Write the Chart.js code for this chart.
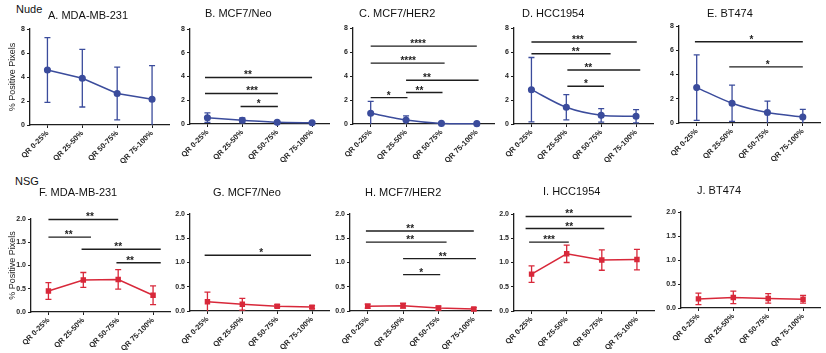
<!DOCTYPE html>
<html>
<head>
<meta charset="utf-8">
<script src="https://cdn.jsdelivr.net/npm/chart.js@4.4.1/dist/chart.umd.min.js"></script>
<style>
body { margin: 0; background: #fff; }
#fig { position: relative; width: 826px; height: 353px; overflow: hidden; font-family: "Liberation Sans", Arial, sans-serif; }
#fig canvas { position: absolute; }
.lbl { position: absolute; font-size: 11px; line-height: 12px; color: #111; white-space: nowrap; }
</style>
</head>
<body>
<div id="fig"></div>
<script>
// categories on the x axis
const quartiles = ['QR 0-25%', 'QR 25-50%', 'QR 50-75%', 'QR 75-100%'];
const nudeTicks = [0, 2, 4, 6, 8];
const nsgTicks = [0, 0.5, 1.0, 1.5, 2.0];

// Nude mice (blue): mean and SD per quartile
const nudeMdaMean = [4.58, 3.9, 2.62, 2.14];
const nudeMdaErr = [2.7, 2.4, 2.2, 2.8];
const nudeNeoMean = [0.53, 0.31, 0.14, 0.11];
const nudeNeoErr = [0.4, 0.2, 0.06, 0.08];
const nudeHer2Mean = [0.89, 0.33, 0.05, 0.03];
const nudeHer2Err = [1.0, 0.34, 0.04, 0.03];
const nudeHccMean = [2.86, 1.39, 0.72, 0.64];
const nudeHccErr = [2.68, 1.05, 0.56, 0.55];
const nudeBtMean = [2.92, 1.63, 0.86, 0.5];
const nudeBtErr = [2.7, 1.5, 0.95, 0.62];

// NSG mice (red)
const nsgMdaMean = [0.45, 0.69, 0.7, 0.36];
const nsgMdaErr = [0.18, 0.16, 0.21, 0.2];
const nsgNeoMean = [0.19, 0.14, 0.1, 0.08];
const nsgNeoErr = [0.2, 0.12, 0.03, 0.03];
const nsgHer2Mean = [0.1, 0.11, 0.06, 0.04];
const nsgHer2Err = [0.04, 0.05, 0.04, 0.03];
const nsgHccMean = [0.76, 1.18, 1.05, 1.06];
const nsgHccErr = [0.17, 0.18, 0.21, 0.21];
const nsgBtMean = [0.19, 0.22, 0.2, 0.18];
const nsgBtErr = [0.12, 0.13, 0.1, 0.08];

// significance brackets: [from index, to index, y value, stars, stars index]
const nudeNeoSig = [[-0.07, 3, 3.92, '**', 1.16], [-0.07, 2.02, 2.57, '***', 1.28], [0.95, 2.02, 1.48, '*', 1.47]];
const nudeHer2Sig = [[0, 3, 6.49, '****', 1.34], [0, 2.09, 5.07, '****', 1.06], [1, 3.05, 3.65, '**', 1.59], [1, 2.03, 2.62, '**', 1.38], [0, 1.04, 2.2, '*', 0.51]];
const nudeHccSig = [[0, 3.02, 6.83, '***', 1.33], [0, 2.27, 5.86, '**', 1.27], [1.03, 3.12, 4.5, '**', 1.63], [1.03, 2.08, 3.14, '*', 1.56]];
const nudeBtSig = [[-0.05, 3, 6.7, '*', 1.55], [0.92, 3, 4.63, '*', 2.01]];
const nsgMdaSig = [[0, 2, 1.99, '**', 1.19], [0, 1.22, 1.61, '**', 0.58], [0.95, 3.22, 1.35, '**', 2.0], [1.95, 3.22, 1.06, '**', 2.34]];
const nsgNeoSig = [[-0.08, 2.97, 1.15, '*', 1.54]];
const nsgHer2Sig = [[-0.05, 3, 1.65, '**', 1.2], [-0.05, 2.23, 1.42, '**', 1.2], [1, 3.06, 1.08, '**', 2.12], [1, 2.05, 0.75, '*', 1.51]];
const nsgHccSig = [[-0.17, 2.85, 1.95, '**', 1.07], [-0.17, 2.07, 1.7, '**', 1.07], [-0.07, 1.06, 1.42, '***', 0.5]];

const BLUE = '#3b4c9c';
const RED = '#d8283a';
const INK = '#1e1e1e';

// layout: chart area [left, top, right, bottom] in page pixels, title [x, y]
const panels = [
    { title: 'A. MDA-MB-231', mean: nudeMdaMean, err: nudeMdaErr, sig: [], row: 0, area: [30, 29, 171, 125], tpos: [48, 15], ytitle: true, tension: 0 },
    { title: 'B. MCF7/Neo', mean: nudeNeoMean, err: nudeNeoErr, sig: nudeNeoSig, row: 0, area: [190, 29, 331, 124], tpos: [205, 13], tension: 0.2 },
    { title: 'C. MCF7/HER2', mean: nudeHer2Mean, err: nudeHer2Err, sig: nudeHer2Sig, row: 0, area: [353, 28, 496, 124], tpos: [359, 13], tension: 0.2 },
    { title: 'D. HCC1954', mean: nudeHccMean, err: nudeHccErr, sig: nudeHccSig, row: 0, area: [514, 28, 655, 124], tpos: [522, 13], tension: 0.3 },
    { title: 'E. BT474', mean: nudeBtMean, err: nudeBtErr, sig: nudeBtSig, row: 0, area: [679, 26, 822, 123], tpos: [707, 13], tension: 0.3 },
    { title: 'F. MDA-MB-231', mean: nsgMdaMean, err: nsgMdaErr, sig: nsgMdaSig, row: 1, area: [31, 219, 172, 312], tpos: [39, 192], ytitle: true, tension: 0 },
    { title: 'G. MCF7/Neo', mean: nsgNeoMean, err: nsgNeoErr, sig: nsgNeoSig, row: 1, area: [190, 214, 331, 311], tpos: [213, 192], tension: 0 },
    { title: 'H. MCF7/HER2', mean: nsgHer2Mean, err: nsgHer2Err, sig: nsgHer2Sig, row: 1, area: [350, 214, 493, 311], tpos: [365, 192], tension: 0 },
    { title: 'I. HCC1954', mean: nsgHccMean, err: nsgHccErr, sig: nsgHccSig, row: 1, area: [514, 214, 656, 311], tpos: [543, 191], tension: 0 },
    { title: 'J. BT474', mean: nsgBtMean, err: nsgBtErr, sig: [], row: 1, area: [681, 212, 823, 308], tpos: [697, 190], tension: 0 }
];

const fig = document.getElementById('fig');

function addLabel(text, x, yc) {
    const d = document.createElement('div');
    d.className = 'lbl';
    d.textContent = text;
    d.style.left = x + 'px';
    d.style.top = (yc - 6) + 'px';
    fig.appendChild(d);
}

addLabel('Nude', 16, 9);
addLabel('NSG', 15, 181);

// error bars drawn from the scales
function errorBars(mean, err, color) {
    return {
        id: 'errorBars',
        beforeDatasetsDraw(chart) {
            const ctx = chart.ctx;
            const xs = chart.scales.x, ys = chart.scales.y;
            ctx.save();
            ctx.strokeStyle = color;
            ctx.lineWidth = 1.3;
            mean.forEach((m, i) => {
                const px = xs.getPixelForValue(i);
                const lo = m - err[i];
                const yl = ys.getPixelForValue(Math.max(lo, ys.min));
                const yh = ys.getPixelForValue(m + err[i]);
                const cap = 3;
                ctx.beginPath();
                ctx.moveTo(px, yl);
                ctx.lineTo(px, yh);
                ctx.moveTo(px - cap, yh);
                ctx.lineTo(px + cap, yh);
                if (lo >= ys.min) {
                    ctx.moveTo(px - cap, yl);
                    ctx.lineTo(px + cap, yl);
                }
                ctx.stroke();
            });
            ctx.restore();
        }
    };
}

// significance lines with stars
function brackets(sig) {
    return {
        id: 'brackets',
        afterDraw(chart) {
            const ctx = chart.ctx;
            const xs = chart.scales.x, ys = chart.scales.y;
            ctx.save();
            ctx.strokeStyle = INK;
            ctx.fillStyle = INK;
            ctx.lineWidth = 1.4;
            ctx.font = 'bold 10px "Liberation Sans", Arial, sans-serif';
            ctx.textAlign = 'center';
            ctx.textBaseline = 'alphabetic';
            sig.forEach(s => {
                const y = ys.getPixelForValue(s[2]);
                ctx.beginPath();
                ctx.moveTo(xs.getPixelForValue(s[0]), y);
                ctx.lineTo(xs.getPixelForValue(s[1]), y);
                ctx.stroke();
                ctx.fillText(s[3], xs.getPixelForValue(s[4]), y + 1);
            });
            ctx.restore();
        }
    };
}

panels.forEach(p => {
    const [L, T, R, B] = p.area;
    const cx = Math.max(0, L - 32);
    const cy = p.row === 0 ? 0 : 172;
    const cw = Math.min(826 - cx, R - cx + 4);
    const ch = p.row === 0 ? 172 : 181;

    const canvas = document.createElement('canvas');
    canvas.style.left = cx + 'px';
    canvas.style.top = cy + 'px';
    canvas.style.width = cw + 'px';
    canvas.style.height = ch + 'px';
    canvas.width = cw;
    canvas.height = ch;
    fig.appendChild(canvas);

    addLabel(p.title, p.tpos[0], p.tpos[1]);

    const color = p.row === 0 ? BLUE : RED;
    const yTicks = p.row === 0 ? nudeTicks : nsgTicks;

    new Chart(canvas.getContext('2d'), {
        type: 'line',
        data: {
            labels: quartiles,
            datasets: [{
                data: p.mean,
                borderColor: color,
                backgroundColor: color,
                borderWidth: 1.5,
                pointStyle: p.row === 0 ? 'circle' : 'rect',
                pointRadius: 2.8,
                tension: p.tension,
                clip: false
            }]
        },
        options: {
            responsive: false,
            animation: false,
            events: [],
            layout: { padding: { left: 0, top: T - cy, right: cx + cw - R, bottom: 0 } },
            plugins: { legend: { display: false }, tooltip: { enabled: false } },
            scales: {
                x: {
                    type: 'category',
                    offset: true,
                    border: { color: INK, width: 1.3 },
                    grid: { drawOnChartArea: false, offset: false, tickLength: 3, color: INK },
                    ticks: {
                        autoSkip: false, minRotation: 45, maxRotation: 45, padding: 1,
                        color: INK, font: { size: 7.5, weight: 'bold', family: '"Liberation Sans", Arial, sans-serif' }
                    },
                    afterFit(scale) {
                        scale.height = cy + ch - B;
                        scale.paddingLeft = 0;
                        scale.paddingRight = 0;
                    }
                },
                y: {
                    min: yTicks[0],
                    max: yTicks[yTicks.length - 1],
                    border: { color: INK, width: 1.3 },
                    grid: { drawOnChartArea: false, tickLength: 3, color: INK },
                    afterBuildTicks(scale) {
                        scale.ticks = yTicks.map(v => ({ value: v }));
                    },
                    ticks: {
                        padding: 2, color: INK,
                        font: { size: 7, weight: 'bold', family: '"Liberation Sans", Arial, sans-serif' },
                        callback: v => p.row === 0 ? String(v) : v.toFixed(1)
                    },
                    title: {
                        display: !!p.ytitle,
                        text: '% Positive Pixels',
                        color: INK,
                        padding: { top: 7, bottom: 0 },
                        font: { size: 9, family: '"Liberation Sans", Arial, sans-serif' }
                    },
                    afterFit(scale) {
                        scale.width = L - cx;
                        scale.paddingTop = 0;
                        scale.paddingBottom = 0;
                    }
                }
            }
        },
        plugins: [errorBars(p.mean, p.err, color), brackets(p.sig)]
    });
});
</script>
</body>
</html>
